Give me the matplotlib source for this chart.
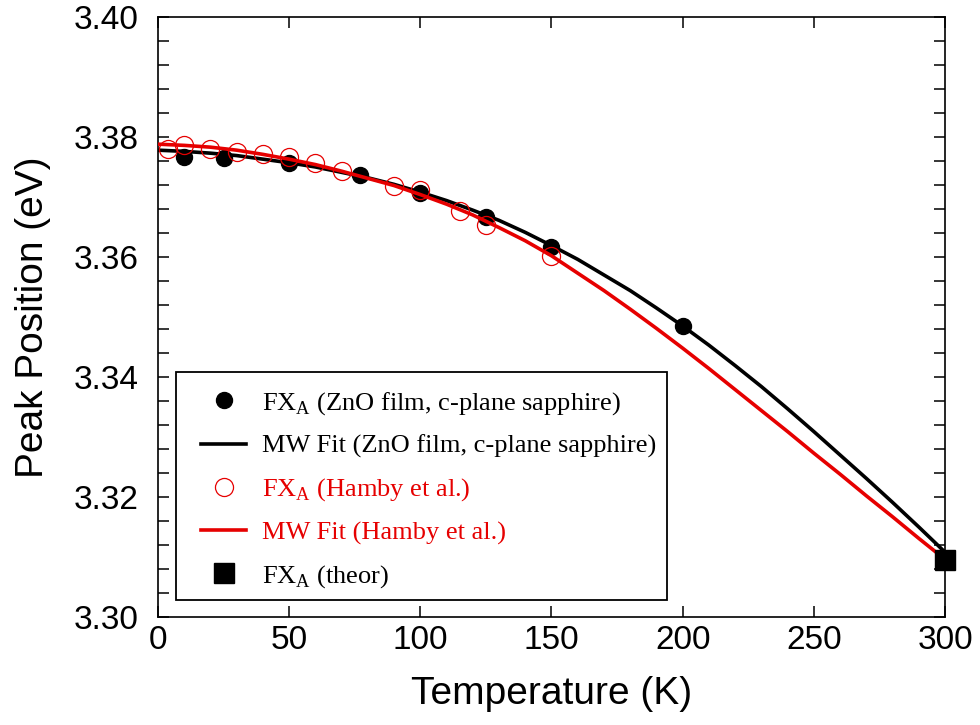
import numpy as np
import matplotlib
matplotlib.use('Agg')
import matplotlib.pyplot as plt
from matplotlib.ticker import MultipleLocator, FormatStrFormatter
from matplotlib.patches import Rectangle

plt.rcParams['font.family'] = ['Liberation Sans', 'DejaVu Sans']
plt.rcParams['mathtext.fontset'] = 'custom'
plt.rcParams['mathtext.rm'] = 'Liberation Serif'

RED = '#e60000'

# FX_A, ZnO film on c-plane sapphire (measured)
t_film = [10, 25, 50, 77, 100, 125, 150, 200]
e_film = [3.3766, 3.3765, 3.3756, 3.3737, 3.3707, 3.3667, 3.3617, 3.3485]

t_fit = [0, 10, 20, 30, 40, 50, 60, 70, 80, 90, 100, 110, 120, 130, 140, 150,
         160, 170, 180, 190, 200, 210, 220, 230, 240, 250, 260, 270, 280, 290, 300]
e_fit_film = [3.3778, 3.3776, 3.3773, 3.3769, 3.3763, 3.3757, 3.3750, 3.3741,
              3.3732, 3.3721, 3.3708, 3.3694, 3.3678, 3.3661, 3.3641, 3.3619,
              3.3596, 3.3570, 3.3544, 3.3515, 3.3485, 3.3453, 3.3419, 3.3384,
              3.3347, 3.3309, 3.3270, 3.3231, 3.3191, 3.3150, 3.3108]
e_fit_hamby = [3.3788, 3.3786, 3.3783, 3.3778, 3.3771, 3.3763, 3.3754, 3.3743,
               3.3731, 3.3719, 3.3704, 3.3688, 3.3670, 3.3649, 3.3627, 3.3602,
               3.3573, 3.3544, 3.3513, 3.3481, 3.3448, 3.3414, 3.3379, 3.3344,
               3.3309, 3.3273, 3.3238, 3.3202, 3.3167, 3.3131, 3.3096]

# FX_A, Hamby et al.
t_hamby = [4, 10, 20, 30, 40, 50, 60, 70, 90, 100, 115, 125, 150]
e_hamby = [3.3780, 3.3787, 3.3780, 3.3775, 3.3772, 3.3767, 3.3757, 3.3743,
           3.3718, 3.3711, 3.3677, 3.3653, 3.3601]

# theoretical FX_A
t_theor = [300]
e_theor = [3.3095]

fig = plt.figure(figsize=(9.8, 7.25), dpi=100)
ax = fig.add_axes([0.1612, 0.149, 0.8031, 0.8276])

ax.plot(t_fit, e_fit_film, color='black', lw=2.6, zorder=2,
        label='MW Fit (ZnO film, c-plane sapphire)')
ax.plot(t_film, e_film, 'o', color='black', ms=11.5, zorder=3,
        label='FX$_\\mathrm{A}$ (ZnO film, c-plane sapphire)')
ax.plot(t_hamby, e_hamby, 'o', mfc='none', mec=RED, mew=0.9, ms=13, zorder=4,
        label='FX$_\\mathrm{A}$ (Hamby et al.)')
ax.plot(t_fit, e_fit_hamby, color=RED, lw=2.6, zorder=5,
        label='MW Fit (Hamby et al.)')
ax.plot(t_theor, e_theor, 's', color='black', ms=14, zorder=6, clip_on=False,
        label='FX$_\\mathrm{A}$ (theor)')

ax.set_xlim(0, 300)
ax.set_ylim(3.30, 3.40)
ax.xaxis.set_major_locator(MultipleLocator(50))
ax.yaxis.set_major_locator(MultipleLocator(0.02))
ax.yaxis.set_minor_locator(MultipleLocator(0.004))
ax.yaxis.set_major_formatter(FormatStrFormatter('%.2f'))
ax.tick_params(which='both', direction='in', top=True, right=True,
               length=8, width=1.1, labelsize=24)
ax.tick_params(axis='y', pad=14)
ax.tick_params(axis='x', pad=6)
for s in ax.spines.values():
    s.set_linewidth(1.2)

ax.set_xlabel('Temperature (K)', fontsize=28, labelpad=14)
ax.set_ylabel('Peak Position (eV)', fontsize=28, labelpad=16)

# legend box drawn separately so the padding matches the original
ax.add_patch(Rectangle((0.0229, 0.0283), 0.6239, 0.38, transform=ax.transAxes,
                       fill=True, facecolor='white', edgecolor='black', lw=1.3,
                       zorder=7))

h, l = ax.get_legend_handles_labels()
order = [1, 0, 2, 3, 4]
leg = ax.legend([h[i] for i in order], [l[i] for i in order],
                loc='lower left', bbox_to_anchor=(0.045, 0.032), borderaxespad=0,
                numpoints=1, frameon=False,
                prop={'family': 'Liberation Serif', 'size': 19},
                labelcolor=['black', 'black', RED, RED, 'black'],
                handlelength=1.7, handletextpad=0.6, labelspacing=0.68,
                borderpad=0.3)
leg.set_zorder(8)

plt.savefig('out.png', dpi=100)
